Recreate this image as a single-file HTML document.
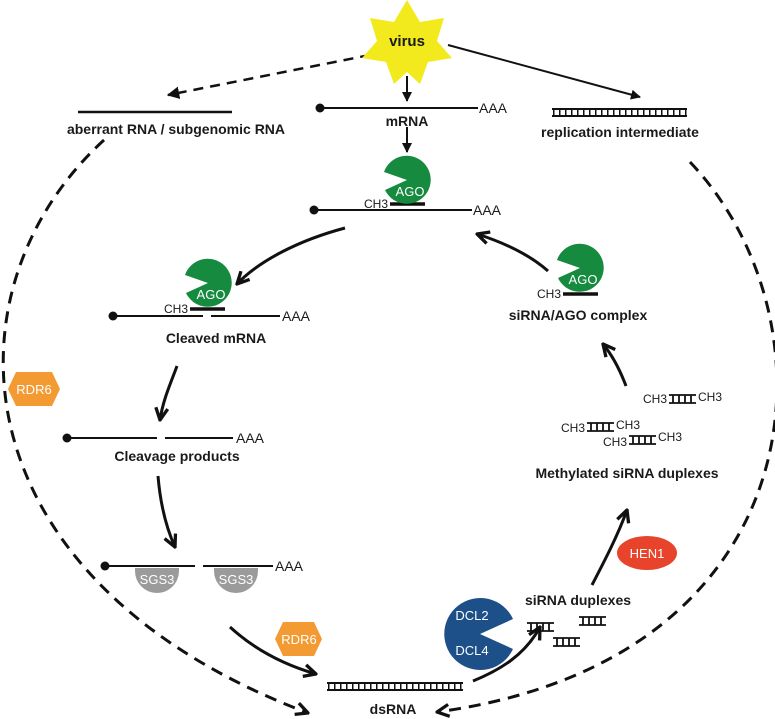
<!DOCTYPE html>
<html><head><meta charset="utf-8"><style>
html,body{margin:0;padding:0;background:#fff;}
svg{display:block;font-family:"Liberation Sans",Arial,sans-serif;}
.b{font-weight:bold;font-size:14px;fill:#1a1a1a;}
.s{font-size:12px;fill:#1a1a1a;}
.aa{font-size:14px;fill:#1a1a1a;}
.w{font-size:13px;fill:#fff;}
</style></head><body>
<svg width="775" height="719" viewBox="0 0 775 719" xmlns="http://www.w3.org/2000/svg">
<defs>
<marker id="a" viewBox="0 0 10 10" refX="9" refY="5" markerWidth="5" markerHeight="5" orient="auto" markerUnits="strokeWidth">
<polyline points="1,1 9,5 1,9" fill="none" stroke="#111" stroke-width="2.2"/>
</marker>
<marker id="t" viewBox="0 0 10 10" refX="9" refY="5" markerWidth="5" markerHeight="5" orient="auto" markerUnits="strokeWidth">
<polygon points="0,0 10,5 0,10" fill="#111"/>
</marker>
</defs>
<g stroke="#111" fill="none">
<path d="M104,140 C-60,290 -45,580 308,713" stroke-width="3" stroke-dasharray="12,8" marker-end="url(#a)"/>
<path d="M690,162 C840,320 820,660 437,712" stroke-width="3" stroke-dasharray="12,8" marker-end="url(#a)"/>
<path d="M370,55 L168,95" stroke-width="2.5" stroke-dasharray="10,7" marker-end="url(#t)"/>
<path d="M448,45 L640,97" stroke-width="2" marker-end="url(#t)"/>
<path d="M407,76 L407,101" stroke-width="2" marker-end="url(#t)"/>
<path d="M407,127 L407,152" stroke-width="2" marker-end="url(#t)"/>
<path d="M345,228 C300,240 260,260 237,284" stroke-width="3" marker-end="url(#a)"/>
<path d="M177,366 C170,385 163,400 160,420" stroke-width="3" marker-end="url(#a)"/>
<path d="M158,476 C160,500 165,525 175,547" stroke-width="3" marker-end="url(#a)"/>
<path d="M230,627 C255,650 285,665 316,674" stroke-width="3" marker-end="url(#a)"/>
<path d="M473,681 C500,670 525,655 540,627" stroke-width="3" marker-end="url(#a)"/>
<path d="M592,585 C605,560 618,535 627,510" stroke-width="3" marker-end="url(#a)"/>
<path d="M626,386 C620,370 612,355 603,344" stroke-width="3" marker-end="url(#a)"/>
<path d="M548,271 C530,255 505,243 477,234" stroke-width="3" marker-end="url(#a)"/>
<line x1="78" y1="112" x2="232" y2="112" stroke-width="2.5"/>
<line x1="320" y1="108" x2="478" y2="108" stroke-width="2"/>
<line x1="314" y1="210" x2="472" y2="210" stroke-width="2"/>
<line x1="390" y1="204" x2="425" y2="204" stroke-width="3.5"/>
<line x1="113" y1="316" x2="203" y2="316" stroke-width="2"/>
<line x1="211" y1="316" x2="280" y2="316" stroke-width="2"/>
<line x1="190" y1="309" x2="225" y2="309" stroke-width="3.5"/>
<line x1="67" y1="438" x2="157" y2="438" stroke-width="2"/>
<line x1="165" y1="438" x2="233" y2="438" stroke-width="2"/>
<line x1="105" y1="566" x2="195" y2="566" stroke-width="2"/>
<line x1="203" y1="566" x2="273" y2="566" stroke-width="2"/>
<line x1="563" y1="294" x2="598" y2="294" stroke-width="3.5"/>
</g>
<g fill="#111">
<circle cx="320" cy="108" r="4.5"/><circle cx="314" cy="210" r="4.5"/>
<circle cx="113" cy="316" r="4.5"/><circle cx="67" cy="438" r="4.5"/><circle cx="105" cy="566" r="4.5"/>
</g>
<g stroke="#111" fill="none">
<g stroke-width="2"><line x1="552" y1="109" x2="687" y2="109"/><line x1="552" y1="116" x2="687" y2="116"/>
<line x1="327" y1="683" x2="463" y2="683"/><line x1="327" y1="690" x2="463" y2="690"/></g>
<line x1="553" y1="112.5" x2="687" y2="112.5" stroke-width="6" stroke-dasharray="1.5,4.5"/>
<line x1="328" y1="686.5" x2="463" y2="686.5" stroke-width="6" stroke-dasharray="1.5,4.5"/>
</g>
<g stroke="#111" fill="none" stroke-width="1.8">
<path d="M527,623h27M527,631h27M531,623v8M537,623v8M543,623v8M549,623v8"/>
<path d="M579,617h27M579,625h27M583,617v8M589,617v8M595,617v8M601,617v8"/>
<path d="M553,638h27M553,646h27M557,638v8M563,638v8M569,638v8M575,638v8"/>
<path d="M669,395h27M669,403h27M673,395v8M679,395v8M685,395v8M691,395v8"/>
<path d="M587,423h27M587,431h27M591,423v8M597,423v8M603,423v8M609,423v8"/>
<path d="M629,436h27M629,444h27M633,436v8M639,436v8M645,436v8M651,436v8"/>
</g>
<polygon fill="#f2ea1d" points="407,0 420,22 444,18 437,41 452,58 428,62 420,84 407,72 394,84 386,62 362,58 377,41 370,18 394,22"/>
<text x="407" y="46" text-anchor="middle" class="b" style="font-size:15px">virus</text>
<g fill="#168a3f">
<path d="M407,180 L384,172 A24,24 0 1 1 385,190 Z"/>
<path d="M208,283 L185,275 A24,24 0 1 1 186,293 Z"/>
<path d="M580,268 L557,260 A24,24 0 1 1 558,278 Z"/>
</g>
<text x="410" y="196" text-anchor="middle" class="w">AGO</text>
<text x="211" y="299" text-anchor="middle" class="w">AGO</text>
<text x="583" y="284" text-anchor="middle" class="w">AGO</text>
<path fill="#1d4f88" d="M480,634 L513,619 A36,36 0 1 0 513,649 Z"/>
<text x="472" y="620" text-anchor="middle" class="w">DCL2</text>
<text x="472" y="655" text-anchor="middle" class="w">DCL4</text>
<g fill="#9b9b9b">
<path d="M135,568 h44 v3 a22,22 0 0 1 -44,0 Z"/>
<path d="M214,568 h44 v3 a22,22 0 0 1 -44,0 Z"/>
</g>
<text x="157" y="584" text-anchor="middle" class="w">SGS3</text>
<text x="236" y="584" text-anchor="middle" class="w">SGS3</text>
<g fill="#f39a32">
<polygon points="8,389 16,372 52,372 60,389 52,406 16,406"/>
<polygon points="275,639 283,622 314,622 322,639 314,656 283,656"/>
</g>
<text x="34" y="394" text-anchor="middle" class="w">RDR6</text>
<text x="299" y="644" text-anchor="middle" class="w">RDR6</text>
<ellipse cx="647" cy="553" rx="30" ry="17" fill="#e8432b"/>
<text x="647" y="558" text-anchor="middle" class="w">HEN1</text>
<text x="176" y="134" text-anchor="middle" class="b">aberrant RNA / subgenomic RNA</text>
<text x="407" y="126" text-anchor="middle" class="b">mRNA</text>
<text x="620" y="137" text-anchor="middle" class="b">replication intermediate</text>
<text x="216" y="343" text-anchor="middle" class="b">Cleaved mRNA</text>
<text x="177" y="461" text-anchor="middle" class="b">Cleavage products</text>
<text x="578" y="320" text-anchor="middle" class="b">siRNA/AGO complex</text>
<text x="627" y="478" text-anchor="middle" class="b">Methylated siRNA duplexes</text>
<text x="578" y="605" text-anchor="middle" class="b">siRNA duplexes</text>
<text x="393" y="714" text-anchor="middle" class="b">dsRNA</text>
<text x="479" y="113" class="aa">AAA</text>
<text x="473" y="215" class="aa">AAA</text>
<text x="388" y="208" text-anchor="end" class="s">CH3</text>
<text x="282" y="321" class="aa">AAA</text>
<text x="188" y="313" text-anchor="end" class="s">CH3</text>
<text x="236" y="443" class="aa">AAA</text>
<text x="275" y="571" class="aa">AAA</text>
<text x="561" y="298" text-anchor="end" class="s">CH3</text>
<text x="667" y="403" text-anchor="end" class="s">CH3</text>
<text x="698" y="401" class="s">CH3</text>
<text x="585" y="432" text-anchor="end" class="s">CH3</text>
<text x="616" y="429" class="s">CH3</text>
<text x="627" y="446" text-anchor="end" class="s">CH3</text>
<text x="658" y="441" class="s">CH3</text>
</svg>
</body></html>
